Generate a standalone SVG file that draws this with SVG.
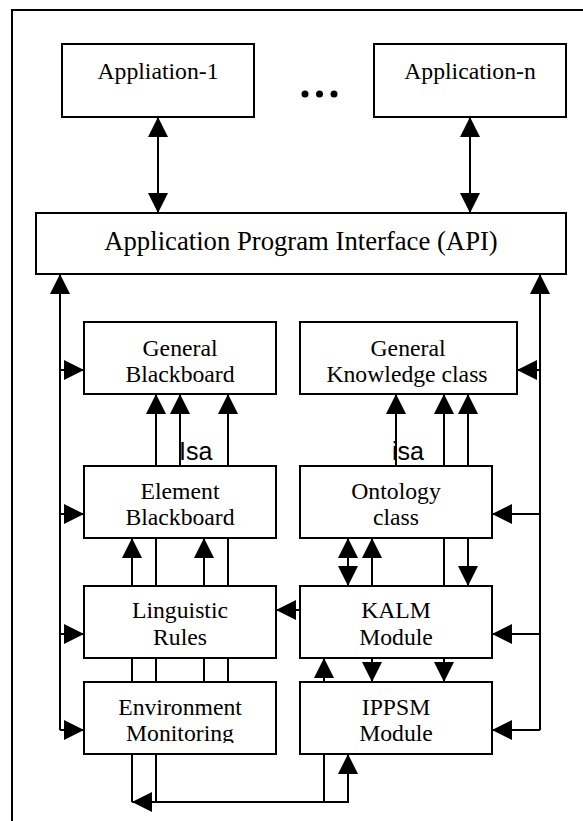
<svg xmlns="http://www.w3.org/2000/svg" width="583" height="821" viewBox="0 0 583 821">
<style>
.box{fill:#fff;stroke:#000;stroke-width:2}
.lbl{font-family:"Liberation Serif","Times New Roman",serif;font-size:23.7px;fill:#000;text-anchor:middle}
.api{font-size:26.7px}
.isa{font-family:"Liberation Sans",Arial,sans-serif;font-size:25px;fill:#000}
.c{fill:none;stroke:#000;stroke-width:2}
.a{marker-end:url(#ah)}
.b{marker-start:url(#ahs);marker-end:url(#ah)}
</style>
<defs>
<marker id="ah" markerUnits="userSpaceOnUse" markerWidth="20" markerHeight="20" refX="20" refY="10" orient="auto" viewBox="0 0 20 20"><path d="M0,0 L20,10 L0,20 z" fill="#000"/></marker>
<marker id="ahs" markerUnits="userSpaceOnUse" markerWidth="20" markerHeight="20" refX="20" refY="10" orient="auto-start-reverse" viewBox="0 0 20 20"><path d="M0,0 L20,10 L0,20 z" fill="#000"/></marker>
<clipPath id="clipEM"><rect x="84" y="682" width="192" height="61"/></clipPath>
</defs>
<rect x="12" y="10" width="600" height="900" fill="#fff" stroke="#000" stroke-width="2"/>

<g id="connectors">
<line class="c b" x1="158" y1="117" x2="158" y2="213"/>
<line class="c b" x1="470" y1="117" x2="470" y2="213"/>
<line class="c a" x1="60" y1="730" x2="60" y2="274"/>
<line class="c a" x1="60" y1="370" x2="84" y2="370"/>
<line class="c a" x1="60" y1="514" x2="84" y2="514"/>
<line class="c a" x1="60" y1="634" x2="84" y2="634"/>
<line class="c a" x1="60" y1="730" x2="84" y2="730"/>
<line class="c a" x1="540" y1="730" x2="540" y2="274"/>
<line class="c a" x1="540" y1="370" x2="517" y2="370"/>
<line class="c a" x1="540" y1="514" x2="492" y2="514"/>
<line class="c a" x1="540" y1="634" x2="492" y2="634"/>
<line class="c a" x1="540" y1="730" x2="492" y2="730"/>
<line class="c a" x1="156" y1="466" x2="156" y2="394"/>
<line class="c a" x1="180" y1="466" x2="180" y2="394"/>
<line class="c a" x1="228" y1="466" x2="228" y2="394"/>
<line class="c a" x1="396" y1="466" x2="396" y2="394"/>
<line class="c a" x1="444" y1="466" x2="444" y2="394"/>
<line class="c a" x1="468" y1="466" x2="468" y2="394"/>
<line class="c a" x1="132" y1="586" x2="132" y2="538"/>
<line class="c" x1="156" y1="586" x2="156" y2="538"/>
<line class="c a" x1="204" y1="586" x2="204" y2="538"/>
<line class="c" x1="228" y1="586" x2="228" y2="538"/>
<line class="c b" x1="348" y1="538" x2="348" y2="586"/>
<line class="c a" x1="372" y1="586" x2="372" y2="538"/>
<line class="c" x1="444" y1="538" x2="444" y2="586"/>
<line class="c a" x1="468" y1="538" x2="468" y2="586"/>
<line class="c a" x1="300" y1="610" x2="276" y2="610"/>
<line class="c" x1="132" y1="658" x2="132" y2="682"/>
<line class="c" x1="156" y1="658" x2="156" y2="682"/>
<line class="c" x1="204" y1="658" x2="204" y2="682"/>
<line class="c" x1="228" y1="658" x2="228" y2="682"/>
<line class="c a" x1="324" y1="682" x2="324" y2="658"/>
<line class="c a" x1="372" y1="658" x2="372" y2="682"/>
<line class="c a" x1="444" y1="658" x2="444" y2="682"/>
<path class="c a" d="M156,754 V802 H348 V754"/>
<path class="c a" d="M324,754 V802 H132"/>
<line class="c" x1="132" y1="754" x2="132" y2="802"/>
</g>

<g id="app1"><rect class="box" x="62" y="44" width="192" height="73"/><text class="lbl" x="158" y="78.5">Appliation-1</text></g>
<g id="dots"><circle cx="305" cy="94" r="3.5"/><circle cx="319.5" cy="94" r="3.5"/><circle cx="334" cy="94" r="3.5"/></g>
<g id="appn"><rect class="box" x="374" y="44" width="192" height="73"/><text class="lbl" x="470" y="78.5">Application-n</text></g>
<g id="api"><rect class="box" x="36" y="213" width="530" height="61"/><text class="lbl api" x="301" y="250">Application Program Interface (API)</text></g>
<g id="gb"><rect class="box" x="84" y="322" width="192" height="72"/><text class="lbl" x="180" y="356">General</text><text class="lbl" x="180" y="382">Blackboard</text></g>
<g id="gkc"><rect class="box" x="300" y="322" width="217" height="72"/><text class="lbl" x="408" y="356">General</text><text class="lbl" x="407" y="382">Knowledge class</text></g>
<g id="isa1"><text class="isa" x="179" y="460">Isa</text></g>
<g id="isa2"><text class="isa" x="392" y="460">isa</text></g>
<g id="eb"><rect class="box" x="84" y="466" width="192" height="72"/><text class="lbl" x="180" y="499">Element</text><text class="lbl" x="180" y="525">Blackboard</text></g>
<g id="oc"><rect class="box" x="300" y="466" width="192" height="72"/><text class="lbl" x="396" y="499">Ontology</text><text class="lbl" x="396" y="525">class</text></g>
<g id="lr"><rect class="box" x="84" y="586" width="192" height="72"/><text class="lbl" x="180" y="618">Linguistic</text><text class="lbl" x="180" y="645">Rules</text></g>
<g id="kalm"><rect class="box" x="300" y="586" width="192" height="72"/><text class="lbl" x="396" y="618">KALM</text><text class="lbl" x="396" y="645">Module</text></g>
<g id="em"><rect class="box" x="84" y="682" width="192" height="72"/><g clip-path="url(#clipEM)"><text class="lbl" x="180" y="715">Environment</text><text class="lbl" x="180" y="741">Monitoring</text></g></g>
<g id="ippsm"><rect class="box" x="300" y="682" width="192" height="72"/><text class="lbl" x="396" y="715">IPPSM</text><text class="lbl" x="396" y="741">Module</text></g>
</svg>
